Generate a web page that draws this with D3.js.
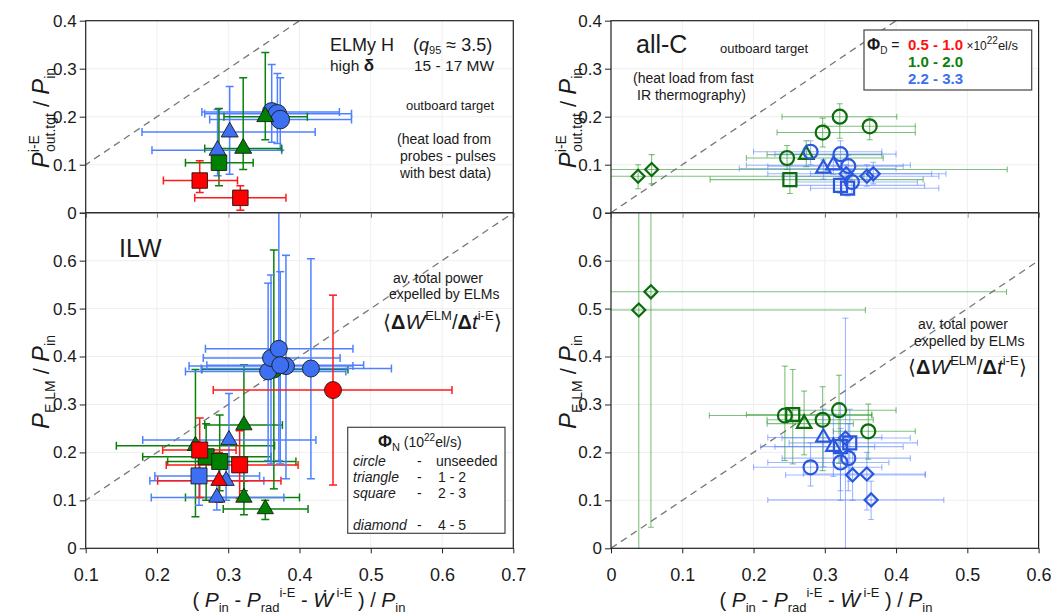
<!DOCTYPE html>
<html>
<head>
<meta charset="utf-8">
<script src="https://cdn.jsdelivr.net/npm/d3@7"></script>
<style>
  body { margin: 0; background: #fff; }
  text { font-family: "Liberation Sans", Arial, sans-serif; fill: #1a1a1a; }
  .narrow { font-family: "Liberation Sans Narrow", "Liberation Sans", Arial, sans-serif; }
</style>
</head>
<body>
<svg id="chart" width="1051" height="614"></svg>
<script>
// rows: [colour group, shape, x, xLo, xHi, y, yLo, yHi]
const ilwTarget = [
  ["b", "c", 0.361, 0.263, 0.456, 0.210, 0.147, 0.309],
  ["b", "c", 0.369, 0.267, 0.473, 0.206, 0.144, 0.290],
  ["b", "c", 0.373, 0.274, 0.473, 0.194, 0.130, 0.281],
  ["b", "t", 0.302, 0.179, 0.422, 0.168, 0.080, 0.263],
  ["b", "t", 0.285, 0.193, 0.375, 0.130, 0.077, 0.215],
  ["g", "t", 0.352, 0.294, 0.411, 0.200, 0.152, 0.334],
  ["g", "t", 0.321, 0.267, 0.375, 0.134, 0.090, 0.281],
  ["g", "s", 0.287, 0.240, 0.335, 0.104, 0.056, 0.217],
  ["r", "s", 0.260, 0.209, 0.313, 0.067, 0.042, 0.108],
  ["r", "s", 0.317, 0.253, 0.381, 0.031, 0.005, 0.056]
];

const ilwElm = [
  ["g", "t", 0.254, 0.143, 0.365, 0.214, 0.066, 0.373],
  ["g", "t", 0.322, 0.267, 0.376, 0.257, 0.120, 0.383],
  ["g", "t", 0.322, 0.240, 0.400, 0.106, 0.070, 0.140],
  ["g", "t", 0.352, 0.293, 0.412, 0.082, 0.060, 0.100],
  ["b", "t", 0.301, 0.180, 0.423, 0.226, 0.140, 0.323],
  ["b", "t", 0.297, 0.190, 0.350, 0.141, 0.100, 0.180],
  ["b", "t", 0.284, 0.192, 0.378, 0.106, 0.080, 0.140],
  ["r", "t", 0.287, 0.201, 0.374, 0.141, 0.096, 0.200],
  ["b", "s", 0.259, 0.197, 0.344, 0.151, 0.090, 0.210],
  ["g", "s", 0.269, 0.180, 0.360, 0.191, 0.100, 0.260],
  ["g", "s", 0.288, 0.215, 0.395, 0.181, 0.120, 0.278],
  ["r", "s", 0.260, 0.208, 0.311, 0.205, 0.106, 0.272],
  ["r", "s", 0.316, 0.213, 0.398, 0.174, 0.104, 0.245],
  ["g", "c", 0.364, 0.263, 0.468, 0.373, 0.124, 0.622],
  ["b", "c", 0.356, 0.240, 0.465, 0.369, 0.183, 0.553],
  ["b", "c", 0.360, 0.265, 0.457, 0.397, 0.176, 0.570],
  ["b", "c", 0.371, 0.268, 0.475, 0.416, 0.183, 0.780],
  ["b", "c", 0.381, 0.245, 0.475, 0.380, 0.145, 0.611],
  ["b", "c", 0.373, 0.270, 0.490, 0.382, 0.176, 0.577],
  ["b", "c", 0.416, 0.262, 0.529, 0.375, 0.145, 0.604],
  ["r", "c", 0.447, 0.279, 0.614, 0.330, 0.132, 0.528]
];

const allcTarget = [
  ["g", "d", 0.038, -0.05, 0.355, 0.076, 0.050, 0.100],
  ["g", "d", 0.057, -0.05, 0.556, 0.090, 0.060, 0.121],
  ["g", "s", 0.251, 0.139, 0.438, 0.069, 0.040, 0.100],
  ["g", "c", 0.247, 0.190, 0.382, 0.114, 0.090, 0.140],
  ["g", "c", 0.297, 0.233, 0.427, 0.167, 0.137, 0.197],
  ["g", "c", 0.321, 0.240, 0.401, 0.200, 0.155, 0.227],
  ["g", "c", 0.363, 0.300, 0.427, 0.180, 0.152, 0.200],
  ["g", "t", 0.274, 0.219, 0.380, 0.121, 0.096, 0.150],
  ["b", "c", 0.280, 0.200, 0.380, 0.127, 0.100, 0.150],
  ["b", "c", 0.322, 0.230, 0.400, 0.122, 0.090, 0.150],
  ["b", "c", 0.333, 0.220, 0.410, 0.097, 0.070, 0.120],
  ["b", "c", 0.338, 0.260, 0.430, 0.064, 0.040, 0.090],
  ["b", "t", 0.298, 0.180, 0.400, 0.092, 0.070, 0.110],
  ["b", "t", 0.312, 0.190, 0.420, 0.099, 0.080, 0.120],
  ["b", "s", 0.322, 0.260, 0.440, 0.057, 0.040, 0.075],
  ["b", "s", 0.332, 0.280, 0.460, 0.051, 0.035, 0.070],
  ["b", "d", 0.330, 0.220, 0.450, 0.081, 0.060, 0.100],
  ["b", "d", 0.359, 0.240, 0.460, 0.076, 0.055, 0.100],
  ["b", "d", 0.368, 0.280, 0.470, 0.081, 0.060, 0.105]
];

const allcElm = [
  ["g", "d", 0.039, -0.05, 0.357, 0.497, -0.05, 0.800],
  ["g", "d", 0.056, -0.05, 0.555, 0.535, 0.044, 0.800],
  ["g", "c", 0.244, 0.138, 0.366, 0.277, 0.183, 0.380],
  ["g", "s", 0.255, 0.190, 0.366, 0.279, 0.176, 0.373],
  ["g", "t", 0.271, 0.219, 0.340, 0.260, 0.195, 0.328],
  ["g", "c", 0.297, 0.219, 0.368, 0.268, 0.162, 0.337],
  ["g", "c", 0.320, 0.251, 0.400, 0.288, 0.177, 0.361],
  ["g", "c", 0.361, 0.312, 0.427, 0.244, 0.186, 0.301],
  ["b", "t", 0.298, 0.220, 0.380, 0.231, 0.170, 0.290],
  ["b", "t", 0.312, 0.210, 0.370, 0.212, 0.150, 0.280],
  ["b", "d", 0.329, 0.240, 0.420, 0.230, -0.05, 0.480],
  ["b", "s", 0.322, 0.230, 0.410, 0.212, 0.120, 0.300],
  ["b", "s", 0.335, 0.250, 0.430, 0.220, 0.140, 0.290],
  ["b", "c", 0.322, 0.220, 0.390, 0.179, 0.100, 0.250],
  ["b", "c", 0.333, 0.240, 0.420, 0.188, 0.120, 0.260],
  ["b", "c", 0.280, 0.200, 0.380, 0.169, 0.130, 0.220],
  ["b", "d", 0.339, 0.245, 0.441, 0.153, 0.100, 0.200],
  ["b", "d", 0.359, 0.270, 0.441, 0.155, 0.080, 0.200],
  ["b", "d", 0.365, 0.220, 0.467, 0.101, 0.060, 0.140]
];

const xTicksIlw = [0.1, 0.2, 0.3, 0.4, 0.5, 0.6, 0.7];
const xTicksAllc = [0, 0.1, 0.2, 0.3, 0.4, 0.5, 0.6];
const yTicksTop = [0, 0.1, 0.2, 0.3, 0.4];
const yTicksBottom = [0, 0.1, 0.2, 0.3, 0.4, 0.5, 0.6, 0.7];

const fillColor = { r: "#ff0000", g: "#008000", b: "#3d6ff2" };
const barColor = { r: "#ff1a1a", g: "#0b800b", b: "#4f80ff" };
const openStroke = { g: "#0c6c0c", b: "#2b57dc" };
const openBar = { g: "rgba(40,150,40,0.6)", b: "rgba(80,125,255,0.55)" };

const svg = d3.select("#chart");

const xL = d3.scaleLinear().domain([0.1, 0.7]).range([85.7, 513.3]);
const xR = d3.scaleLinear().domain([0, 0.6]).range([611, 1038.6]);
const yT = d3.scaleLinear().domain([0, 0.4]).range([212.7, 20.7]);
const yB = d3.scaleLinear().domain([0, 0.7]).range([548.3, 212.7]);

const panels = [
  { id: "tl", x: xL, y: yT, data: ilwTarget, open: false, xt: xTicksIlw, yt: yTicksTop, ylab: yTicksTop, xlab: false, rC: 9.3, sq: 15.5, tri: 125 },
  { id: "bl", x: xL, y: yB, data: ilwElm, open: false, xt: xTicksIlw, yt: yTicksBottom, ylab: yTicksBottom.slice(0, 7), xlab: true, rC: 8.5, sq: 16, tri: 115 },
  { id: "tr", x: xR, y: yT, data: allcTarget, open: true, xt: xTicksAllc, yt: yTicksTop, ylab: yTicksTop, xlab: false, rC: 7, sq: 13, tri: 90 },
  { id: "br", x: xR, y: yB, data: allcElm, open: true, xt: xTicksAllc, yt: yTicksBottom, ylab: yTicksBottom.slice(0, 7), xlab: true, rC: 7, sq: 13, tri: 90 }
];

function symbolPath(shape, p) {
  if (shape === "c") return d3.symbol(d3.symbolCircle, Math.PI * p.rC * p.rC)();
  if (shape === "s") return d3.symbol(d3.symbolSquare, p.sq * p.sq)();
  if (shape === "t") return d3.symbol(d3.symbolTriangle, p.tri)();
  return d3.symbol(d3.symbolSquare, p.open ? 85 : 110)();
}

const fmt = d => d === 0 ? "0" : d3.format(".1f")(d);

panels.forEach(p => {
  const [x0, x1] = p.x.range();
  const [y0, y1] = p.y.range();
  const g = svg.append("g");

  svg.append("clipPath").attr("id", "clip-" + p.id)
    .append("rect").attr("x", x0).attr("y", y1).attr("width", x1 - x0).attr("height", y0 - y1);

  // faint grid
  g.selectAll(".gx").data(p.xt).enter().append("line")
    .attr("x1", d => p.x(d)).attr("x2", d => p.x(d)).attr("y1", y0).attr("y2", y1)
    .attr("stroke", "#efefef");
  g.selectAll(".gy").data(p.yt).enter().append("line")
    .attr("x1", x0).attr("x2", x1).attr("y1", d => p.y(d)).attr("y2", d => p.y(d))
    .attr("stroke", "#efefef");

  const inner = g.append("g").attr("clip-path", "url(#clip-" + p.id + ")");

  // y = x reference
  const dd = [Math.min(p.x.domain()[0], 0), 1];
  inner.append("line")
    .attr("x1", p.x(dd[0])).attr("y1", p.y(dd[0]))
    .attr("x2", p.x(dd[1])).attr("y2", p.y(dd[1]))
    .attr("stroke", "#777").attr("stroke-width", 1.3).attr("stroke-dasharray", "7,5");

  const cap = p.open ? 3 : 4;
  const bars = inner.selectAll(".eb").data(p.data).enter().append("g")
    .attr("stroke", d => p.open ? openBar[d[0]] : barColor[d[0]])
    .attr("stroke-width", p.open ? 1.1 : 1.5);
  bars.append("line")
    .attr("x1", d => p.x(d[3])).attr("x2", d => p.x(d[4]))
    .attr("y1", d => p.y(d[5])).attr("y2", d => p.y(d[5]));
  bars.append("line")
    .attr("x1", d => p.x(d[2])).attr("x2", d => p.x(d[2]))
    .attr("y1", d => p.y(d[6])).attr("y2", d => p.y(d[7]));
  [3, 4].forEach(k => bars.append("line")
    .attr("x1", d => p.x(d[k])).attr("x2", d => p.x(d[k]))
    .attr("y1", d => p.y(d[5]) - cap).attr("y2", d => p.y(d[5]) + cap));
  [6, 7].forEach(k => bars.append("line")
    .attr("x1", d => p.x(d[2]) - cap).attr("x2", d => p.x(d[2]) + cap)
    .attr("y1", d => p.y(d[k])).attr("y2", d => p.y(d[k])));

  inner.selectAll(".mk").data(p.data).enter().append("path")
    .attr("d", d => symbolPath(d[1], p))
    .attr("transform", d => "translate(" + p.x(d[2]) + "," + p.y(d[5]) + ")" + (d[1] === "d" ? " rotate(45)" : ""))
    .attr("fill", d => p.open ? "none" : fillColor[d[0]])
    .attr("stroke", d => p.open ? openStroke[d[0]] : "#1a1a1a")
    .attr("stroke-width", p.open ? 2.2 : 0.9);

  // frame
  g.append("rect").attr("x", x0).attr("y", y1).attr("width", x1 - x0).attr("height", y0 - y1)
    .attr("fill", "none").attr("stroke", "#222").attr("stroke-width", 1.2);

  // axes
  const ay = g.append("g").attr("transform", "translate(" + x0 + ",0)")
    .call(d3.axisLeft(p.y).tickValues(p.yt).tickSize(6).tickFormat(d => p.ylab.includes(d) ? fmt(d) : ""));
  ay.select(".domain").remove();
  ay.selectAll("line").attr("stroke", "#222");
  ay.selectAll("text").attr("font-size", 17).attr("fill", "#1a1a1a")
    .attr("class", p.xlab ? "narrow" : null)
    .attr("font-family", null);

  const ax = g.append("g").attr("transform", "translate(0," + y0 + ")")
    .call(d3.axisBottom(p.x).tickValues(p.xt).tickSize(5).tickFormat(d => p.xlab ? fmt(d) : ""));
  ax.select(".domain").remove();
  ax.selectAll("line").attr("stroke", "#222");
  ax.selectAll("text").attr("font-size", 18).attr("class", "narrow").attr("font-family", null)
    .attr("dy", "1.35em").attr("fill", "#1a1a1a");
});

// rich text helper: parts {t, s, i, b, sh, dx, fill}
function rich(x, y, parts, opts = {}) {
  const t = svg.append("text").attr("x", x).attr("y", y)
    .attr("text-anchor", opts.anchor || "start");
  if (opts.rotate) t.attr("transform", "rotate(" + opts.rotate + "," + x + "," + y + ")");
  if (opts.cls) t.attr("class", opts.cls);
  let prev = 0;
  parts.forEach(q => {
    const sh = q.sh || 0;
    const ts = t.append("tspan").text(q.t)
      .attr("font-size", q.s || 14)
      .attr("dy", sh - prev);
    if (q.dx) ts.attr("dx", q.dx);
    if (q.i) ts.attr("font-style", "italic");
    if (q.b) ts.attr("font-weight", "bold");
    if (q.fill) ts.style("fill", q.fill);
    prev = sh;
  });
  return t;
}

// y-axis titles
[49, 576].forEach(cx => {
  rich(cx, 118, [
    { t: "P", s: 24, i: true },
    { t: "i-E", s: 14, sh: -10 },
    { t: "out.tgt", s: 14, sh: 6, dx: -17 },
    { t: " / ", s: 22 },
    { t: "P", s: 24, i: true },
    { t: "in", s: 14, sh: 6 }
  ], { anchor: "middle", rotate: -90 });
  rich(cx, 382, [
    { t: "P", s: 24, i: true },
    { t: "E LM", s: 14, sh: 6 },
    { t: " / ", s: 22 },
    { t: "P", s: 24, i: true },
    { t: "in", s: 14, sh: 6 }
  ], { anchor: "middle", rotate: -90 });
});

// x-axis titles
[299, 826].forEach(cx => {
  rich(cx, 607, [
    { t: "( ", s: 20 },
    { t: "P", s: 21, i: true },
    { t: "in", s: 13, sh: 5 },
    { t: " - ", s: 20 },
    { t: "P", s: 21, i: true },
    { t: "rad", s: 13, sh: 5 },
    { t: "i-E", s: 13, sh: -10 },
    { t: " - ", s: 20 },
    { t: "Ẇ", s: 21, i: true },
    { t: " i-E", s: 13, sh: -10 },
    { t: " ) / ", s: 20 },
    { t: "P", s: 21, i: true },
    { t: "in", s: 13, sh: 5 }
  ], { anchor: "middle", cls: "narrow" });
});

// top-left annotations
rich(330, 51, [{ t: "ELMy H", s: 18 }]);
rich(413, 51, [{ t: "(", s: 18 }, { t: "q", s: 18, i: true }, { t: "95", s: 11, sh: 3 }, { t: " ≈ 3.5)", s: 18 }]);
rich(330, 71, [{ t: "high ", s: 15.5 }, { t: "δ", s: 17, b: true }]);
rich(414, 71, [{ t: "15 - 17 MW", s: 15.5 }]);
rich(450, 110, [{ t: "outboard target", s: 13 }], { anchor: "middle" });
rich(397, 144, [{ t: "(heat load from", s: 14 }]);
rich(400, 161, [{ t: "probes  -  pulses", s: 14 }]);
rich(400, 178, [{ t: "with best data)", s: 14 }]);

// bottom-left annotations
rich(119, 257, [{ t: "ILW", s: 25 }]);
rich(393, 283, [{ t: "av. total power", s: 14 }]);
rich(389, 299, [{ t: "expelled by ELMs", s: 14 }]);
function elmExpr(x, y) {
  rich(x, y, [
    { t: "⟨", s: 20 }, { t: "Δ", s: 20, b: true }, { t: "W", s: 21, i: true },
    { t: "ELM", s: 13, sh: -9 }, { t: "/", s: 20 }, { t: "Δ", s: 20, b: true },
    { t: "t", s: 21, i: true }, { t: "i-E", s: 13, sh: -9 }, { t: "⟩", s: 20 }
  ]);
}
elmExpr(383, 329);

// ILW legend box
svg.append("rect").attr("x", 347.7).attr("y", 427.3).attr("width", 157.3).attr("height", 106)
  .attr("fill", "#fff").attr("stroke", "#444").attr("stroke-width", 1.2);
rich(378, 447, [{ t: "Φ", s: 17, b: true }, { t: "N", s: 11, sh: 4 }, { t: "  (10", s: 14 }, { t: "22", s: 10, sh: -6 }, { t: "el/s)", s: 14 }]);
const legendShapes = ["circle", "triangle", "square", "", "diamond"];
const legendRanges = ["unseeded", "1  -  2", "2  -  3", "", "4  -  5"];
legendShapes.forEach((s, i) => {
  if (!s) return;
  const yy = 466 + i * 16;
  rich(353, yy, [{ t: s, s: 14, i: true }]);
  rich(417, yy, [{ t: "-", s: 14 }]);
  rich(i === 0 ? 436 : 438, yy, [{ t: legendRanges[i], s: 14 }]);
});

// top-right annotations
rich(636, 53, [{ t: "all-C", s: 25 }]);
rich(720, 53, [{ t: "outboard target", s: 13 }]);
rich(633, 83, [{ t: "(heat load from fast", s: 14 }]);
rich(637, 100, [{ t: "IR thermography)", s: 14 }]);

// all-C legend box
svg.append("rect").attr("x", 864).attr("y", 30).attr("width", 167.7).attr("height", 60)
  .attr("fill", "#fff").attr("stroke", "#444").attr("stroke-width", 1.2);
rich(867, 50, [{ t: "Φ", s: 16, b: true }, { t: "D", s: 10, sh: 4 }, { t: " = ", s: 14 }]);
rich(908, 50, [{ t: "0.5 - 1.0", s: 15, b: true, fill: "#ff1010" }, { t: " ×10", s: 12 }, { t: "22", s: 10, sh: -6 }, { t: "el/s", s: 13, sh: 0 }]);
rich(908, 67, [{ t: "1.0 - 2.0", s: 15, b: true, fill: "#0b800b" }]);
rich(908, 84, [{ t: "2.2 - 3.3", s: 15, b: true, fill: "#3d6ff2" }]);

// bottom-right annotations
rich(918, 329, [{ t: "av. total power", s: 14 }]);
rich(914, 346, [{ t: "expelled by ELMs", s: 14 }]);
elmExpr(908, 374);
</script>
</body>
</html>
